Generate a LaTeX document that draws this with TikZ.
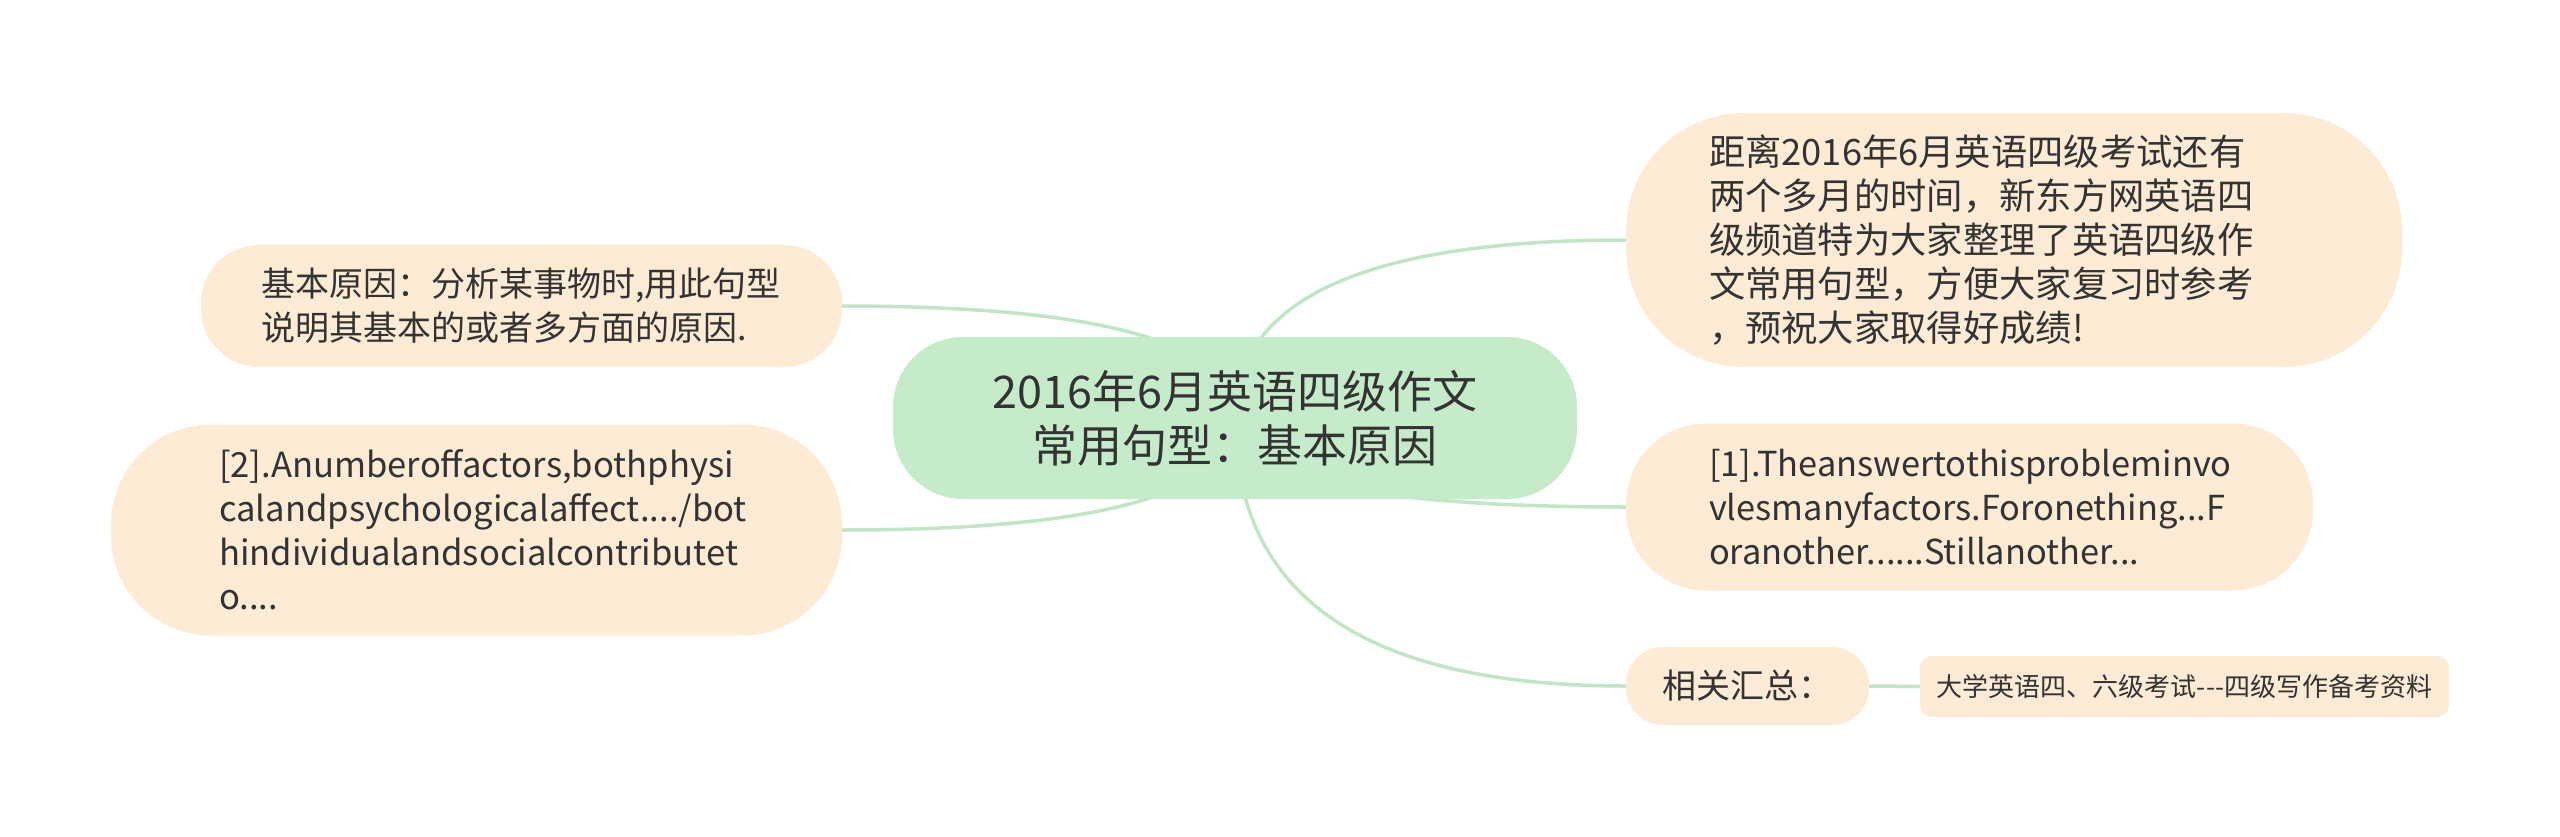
\documentclass[tikz,border=0pt]{standalone}
\usepackage{fontspec}
\setmainfont{Noto Sans CJK SC}
\usetikzlibrary{calc,backgrounds}
\definecolor{centerfill}{HTML}{C6EBCA}
\definecolor{leaffill}{HTML}{FDEBD6}
\definecolor{linecol}{HTML}{C0E6C5}
\definecolor{txt}{HTML}{333333}
\tikzset{
  rootbox/.style={fill=centerfill, text=txt, inner sep=0pt, align=center,
    font={\fontsize{45}{54}\selectfont}},
  topicbox/.style={fill=leaffill, text=txt, inner sep=0pt, align=left,
    font={\fontsize{34}{44}\selectfont}},
  smallbox/.style={fill=leaffill, text=txt, inner sep=0pt, rounded corners=12pt,
    font={\fontsize{26}{32}\selectfont}},
  conn/.style={draw=linecol, line width=3.5pt},
}
\begin{document}
\begin{tikzpicture}[x=1pt,y=-1pt]
\useasboundingbox (0,0) rectangle (2560,837);
\node[rootbox, minimum width=684pt, minimum height=162pt, rounded corners=70pt] (c) at (1235,418)
  {2016年6月英语四级作文\\常用句型：基本原因};
\node[topicbox, minimum width=776pt, minimum height=254pt, rounded corners=118pt, text width=610pt,
  font={\fontsize{36.3}{44}\selectfont}] (tr) at (2014,240)
  {距离2016年6月英语四级考试还有\\两个多月的时间，新东方网英语四\\级频道特为大家整理了英语四级作\\文常用句型，方便大家复习时参考\\，预祝大家取得好成绩!};
\node[topicbox, minimum width=641pt, minimum height=122pt, rounded corners=58pt, text width=521pt] (tl) at (521.5,306)
  {基本原因：分析某事物时,用此句型\\说明其基本的或者多方面的原因.};
\node[topicbox, minimum width=731pt, minimum height=211pt, rounded corners=100pt, text width=515pt,
  font={\fontsize{34.6}{44}\selectfont}] (bl) at (476.5,530)
  {[2].Anumberoffactors,bothphysi\\calandpsychologicalaffect..../bot\\hindividualandsocialcontributet\\o....};
\node[topicbox, minimum width=687pt, minimum height=167pt, rounded corners=80pt, text width=521pt,
  font={\fontsize{34.4}{44}\selectfont}] (rm) at (1969.5,507)
  {[1].Theanswertothisprobleminvo\\vlesmanyfactors.Foronething...F\\oranother......Stillanother...};
\node[topicbox, minimum width=243pt, minimum height=78pt, rounded corners=37pt, align=center] (sum) at (1747.5,686)
  {相关汇总：};
\node[smallbox, minimum width=529pt, minimum height=61pt] (leaf) at (2184.5,686.5)
  {大学英语四、六级考试-{}-{}-四级写作备考资料};
\begin{scope}[on background layer]
\fill[white] (0,0) rectangle (2560,837);
\foreach \n/\a in {tr/west, rm/west, sum/west, tl/east, bl/east}{
  \draw[conn] (c.center) .. controls ($(c.center)!2/3!(c.center |- \n.\a)$) and ($(\n.\a)!2/3!(c.center |- \n.\a)$) .. (\n.\a);
}
\draw[conn] (sum.east) -- (leaf.west);
\end{scope}
\end{tikzpicture}
\end{document}
